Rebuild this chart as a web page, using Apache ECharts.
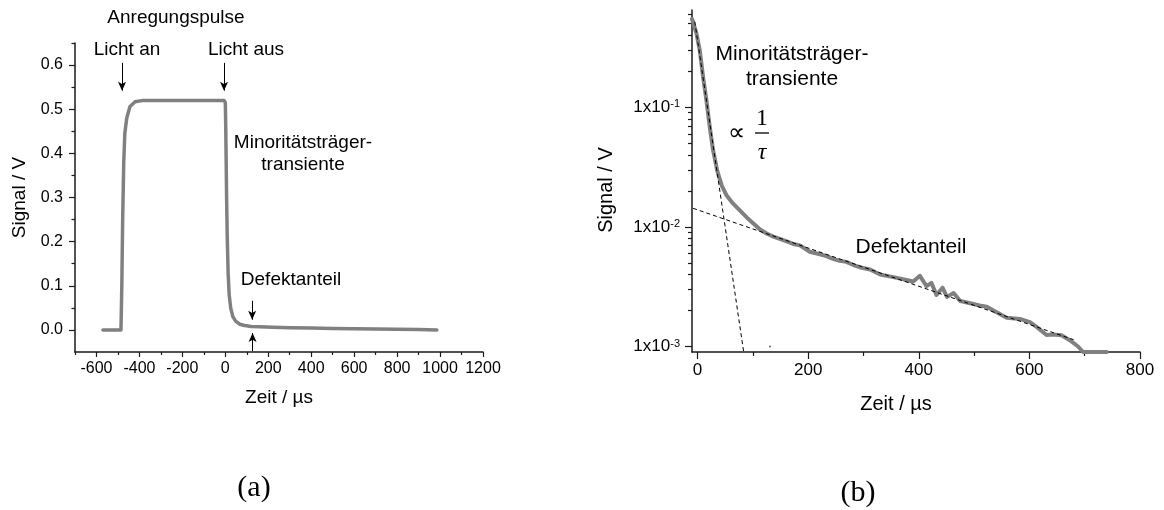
<!DOCTYPE html>
<html>
<head>
<meta charset="utf-8">
<script src="https://cdn.jsdelivr.net/npm/echarts@6/dist/echarts.min.js"></script>
<style>
  html, body { margin: 0; padding: 0; background: #fff; }
  #chart { width: 1164px; height: 510px; }
</style>
</head>
<body>
<div id="chart"></div>
<script>
// ---- (a) pulse response, linear signal axis ----
const pulseTime = [-570, -486, -482, -478, -473, -468, -459, -444, -420, -383, -300, -200, -100, -6,
  0, 2, 4, 6, 9, 13, 18, 25, 35, 48, 67, 90, 120, 160, 220, 300, 400, 500, 600, 700, 800, 900, 985];
const pulseSignal = [0, 0, 0.1, 0.25, 0.38, 0.445, 0.48, 0.506, 0.517, 0.52, 0.52, 0.52, 0.52, 0.52,
  0.515, 0.46, 0.38, 0.3, 0.21, 0.13, 0.08, 0.05, 0.03, 0.02, 0.013, 0.01, 0.008, 0.007, 0.006, 0.005,
  0.0042, 0.0035, 0.0028, 0.0021, 0.0015, 0.0008, 0.0];

// ---- (b) decay after switch-off, logarithmic signal axis ----
const decayTime = [-10, -2, 4, 10, 16, 22, 28, 36, 44, 52, 64, 76, 89, 100, 113, 125, 137, 160, 173, 185, 203,
  221, 233, 245, 257, 269, 282, 293, 312, 330, 354, 378, 390, 402, 414, 423, 432, 443, 451, 463, 475,
  493, 510, 523, 535, 559, 583, 601, 613, 631, 643, 658, 673, 688, 697, 720, 740];
const decaySignal = [0.547, 0.415, 0.30, 0.18, 0.115, 0.069, 0.044, 0.029, 0.022, 0.0185, 0.0157, 0.0138,
  0.012, 0.0108, 0.0095, 0.0088, 0.0083, 0.0076, 0.0072, 0.007, 0.0062, 0.0059, 0.0057, 0.0054, 0.0052, 0.0051,
  0.0048, 0.0046, 0.0044, 0.0040, 0.0038, 0.0036, 0.0035, 0.0039, 0.0032, 0.0034, 0.0027, 0.0031, 0.0026,
  0.0028, 0.0024, 0.0023, 0.0022, 0.00215, 0.002, 0.00174, 0.0017, 0.0016, 0.00146, 0.00125, 0.00126,
  0.00124, 0.00113, 0.001, 0.0009, 0.0009, 0.0009];

// exponential fits (straight lines in log space, two end points each)
const fastFitTime = [-5, 86];
const fastFitSignal = [0.52, 0.00075];
const slowFitTime = [-8, 680];
const slowFitSignal = [0.0143, 0.00114];
const strayTime = [131];
const straySignal = [0.001];

// arrows in panel (a): time position, start and end signal
const arrowTime = [-481, -6, 125, 127];
const arrowFrom = [0.605, 0.605, 0.066, -0.048];
const arrowTo = [0.542, 0.542, 0.023, -0.007];

// tick positions
const pulseTimeTicks = [-600, -400, -200, 0, 200, 400, 600, 800, 1000, 1200];
const pulseTimeMinor = [-700, -500, -300, -100, 100, 300, 500, 700, 900, 1100];
const pulseSignalTicks = [0, 0.1, 0.2, 0.3, 0.4, 0.5, 0.6];
const pulseSignalMinor = [0.05, 0.15, 0.25, 0.35, 0.45, 0.55, 0.65];
const decayTimeTicks = [0, 200, 400, 600, 800];
const decayTimeMinor = [100, 300, 500, 700];
const decaySignalTicks = [0.001, 0.01, 0.1];
const decaySignalMinor = [0.002, 0.003, 0.004, 0.005, 0.006, 0.007, 0.008, 0.009,
  0.02, 0.03, 0.04, 0.05, 0.06, 0.07, 0.08, 0.09, 0.2, 0.3, 0.4, 0.5, 0.6];

const SANS = 'Liberation Sans';
const SERIF = 'Liberation Serif';
const AXIS_COLOR = '#1a1a1a';
const CURVE_COLOR = '#808080';

const zip = (xs, ys) => xs.map((x, i) => [x, ys[i]]);

function majorAxis(extra) {
  return Object.assign({
    type: 'value',
    axisLine: { show: true, onZero: false, lineStyle: { color: AXIS_COLOR, width: 1.5 } },
    splitLine: { show: false },
    axisLabel: { color: '#000', fontFamily: SANS, fontSize: 16 },
    nameTextStyle: { color: '#000', fontFamily: SANS, fontSize: 19 },
    nameLocation: 'middle'
  }, extra);
}
function minorAxis(extra, values, len) {
  return Object.assign({
    type: 'value',
    axisLine: { show: false, onZero: false },
    splitLine: { show: false },
    axisLabel: { show: false },
    axisTick: { show: true, length: len, customValues: values, lineStyle: { color: AXIS_COLOR, width: 1.2 } }
  }, extra);
}

const chart = echarts.init(document.getElementById('chart'), null, { renderer: 'canvas' });

const option = {
  animation: false,
  backgroundColor: '#fff',
  textStyle: { fontFamily: SANS },
  grid: [
    { left: 75, top: 43, width: 408, height: 309 },
    { left: 692, top: 10, width: 448, height: 342 }
  ],
  xAxis: [
    majorAxis({
      gridIndex: 0, position: 'bottom', min: -700, max: 1200,
      axisTick: { length: 5, customValues: pulseTimeTicks, lineStyle: { color: AXIS_COLOR, width: 1.2 } },
      axisLabel: { color: '#000', fontFamily: SANS, fontSize: 16, margin: 9, customValues: pulseTimeTicks, formatter: v => String(v) },
      name: 'Zeit / µs', nameGap: 36
    }),
    minorAxis({ gridIndex: 0, position: 'bottom', min: -700, max: 1200 }, pulseTimeMinor, 3),
    majorAxis({
      gridIndex: 1, position: 'bottom', min: -10, max: 800,
      axisTick: { length: 7, customValues: decayTimeTicks, lineStyle: { color: AXIS_COLOR, width: 1.2 } },
      axisLabel: { color: '#000', fontFamily: SANS, fontSize: 17, margin: 10, customValues: decayTimeTicks, formatter: v => String(v) },
      name: 'Zeit / µs', nameGap: 42,
      nameTextStyle: { color: '#000', fontFamily: SANS, fontSize: 20, padding: [0, 40, 0, 0] }
    }),
    minorAxis({ gridIndex: 1, position: 'bottom', min: -10, max: 800 }, decayTimeMinor, 4)
  ],
  yAxis: [
    majorAxis({
      gridIndex: 0, position: 'left', min: -0.05, max: 0.65,
      axisTick: { length: 6, customValues: pulseSignalTicks, lineStyle: { color: AXIS_COLOR, width: 1.2 } },
      axisLabel: {
        color: '#000', fontFamily: SANS, fontSize: 16, margin: 12, customValues: pulseSignalTicks,
        formatter: v => v.toFixed(1)
      },
      name: 'Signal / V', nameRotate: 90, nameGap: 46
    }),
    minorAxis({ gridIndex: 0, position: 'left', min: -0.05, max: 0.65 }, pulseSignalMinor, 3.5),
    majorAxis({
      gridIndex: 1, type: 'log', logBase: 10, position: 'left', min: 0.0009, max: 0.65,
      axisTick: { length: 7, customValues: decaySignalTicks, lineStyle: { color: AXIS_COLOR, width: 1.2 } },
      axisLabel: {
        color: '#000', fontFamily: SANS, fontSize: 17, margin: 12, customValues: decaySignalTicks,
        formatter: v => '1x10{s|' + Math.round(Math.log10(v)) + '}',
        rich: { s: { fontSize: 11, fontFamily: SANS, color: '#000', verticalAlign: 'top', lineHeight: 11, padding: [0, 0, 8, 0] } }
      },
      name: 'Signal / V', nameRotate: 90, nameGap: 76,
      nameTextStyle: { color: '#000', fontFamily: SANS, fontSize: 20, padding: [0, 18, 0, 0] }
    }),
    minorAxis({ gridIndex: 1, type: 'log', logBase: 10, position: 'left', min: 0.0009, max: 0.65 }, decaySignalMinor, 4)
  ],
  series: [
    {
      type: 'line', xAxisIndex: 0, yAxisIndex: 0, data: zip(pulseTime, pulseSignal),
      showSymbol: false, silent: true,
      lineStyle: { color: CURVE_COLOR, width: 3.5, cap: 'round', join: 'round' },
      markLine: {
        silent: true, symbol: ['none', 'arrow'], symbolSize: [6, 9],
        label: { show: false },
        lineStyle: { color: '#000', width: 1, type: 'solid' },
        data: arrowTime.map((t, i) => [{ coord: [t, arrowFrom[i]] }, { coord: [t, arrowTo[i]] }])
      }
    },
    {
      type: 'line', xAxisIndex: 2, yAxisIndex: 2, data: zip(decayTime, decaySignal),
      showSymbol: false, silent: true,
      lineStyle: { color: CURVE_COLOR, width: 4, cap: 'round', join: 'round' }
    },
    {
      type: 'line', xAxisIndex: 2, yAxisIndex: 2, data: zip(fastFitTime, fastFitSignal),
      showSymbol: false, silent: true,
      lineStyle: { color: '#000', width: 1, type: [4, 3] }
    },
    {
      type: 'line', xAxisIndex: 2, yAxisIndex: 2, data: zip(slowFitTime, slowFitSignal),
      showSymbol: false, silent: true,
      lineStyle: { color: '#000', width: 1, type: [4, 3] }
    },
    {
      type: 'scatter', xAxisIndex: 2, yAxisIndex: 2, data: zip(strayTime, straySignal),
      symbolSize: 2, silent: true, itemStyle: { color: '#333' }
    }
  ],
  graphic: [
    { type: 'text', x: 176, y: 18, style: { text: 'Anregungspulse', fontFamily: SANS, fontSize: 19, fill: '#000', align: 'center', verticalAlign: 'middle' } },
    { type: 'text', x: 127, y: 50, style: { text: 'Licht an', fontFamily: SANS, fontSize: 19, fill: '#000', align: 'center', verticalAlign: 'middle' } },
    { type: 'text', x: 246, y: 50, style: { text: 'Licht aus', fontFamily: SANS, fontSize: 19, fill: '#000', align: 'center', verticalAlign: 'middle' } },
    { type: 'text', x: 303, y: 154, style: { text: 'Minoritätsträger-\ntransiente', fontFamily: SANS, fontSize: 19, lineHeight: 22, fill: '#000', align: 'center', verticalAlign: 'middle' } },
    { type: 'text', x: 291, y: 280, style: { text: 'Defektanteil', fontFamily: SANS, fontSize: 19, fill: '#000', align: 'center', verticalAlign: 'middle' } },
    { type: 'text', x: 792, y: 67, style: { text: 'Minoritätsträger-\ntransiente', fontFamily: SANS, fontSize: 21, lineHeight: 25, fill: '#000', align: 'center', verticalAlign: 'middle' } },
    { type: 'text', x: 911, y: 247, style: { text: 'Defektanteil', fontFamily: SANS, fontSize: 21, fill: '#000', align: 'center', verticalAlign: 'middle' } },
    { type: 'text', x: 736, y: 134, style: { text: '∝', fontFamily: SERIF, fontSize: 24, fill: '#000', align: 'center', verticalAlign: 'middle' } },
    { type: 'text', x: 762, y: 119, style: { text: '1', fontFamily: SERIF, fontSize: 24, fill: '#000', align: 'center', verticalAlign: 'middle' } },
    { type: 'line', shape: { x1: 755, y1: 133, x2: 769, y2: 133 }, style: { stroke: '#000', lineWidth: 1.3 } },
    { type: 'text', x: 762, y: 153, style: { text: 'τ', fontFamily: SERIF, fontStyle: 'italic', fontSize: 24, fill: '#000', align: 'center', verticalAlign: 'middle' } },
    { type: 'text', x: 254, y: 488, style: { text: '(a)', fontFamily: SERIF, fontSize: 30, fill: '#000', align: 'center', verticalAlign: 'middle' } },
    { type: 'text', x: 858, y: 493, style: { text: '(b)', fontFamily: SERIF, fontSize: 30, fill: '#000', align: 'center', verticalAlign: 'middle' } }
  ]
};

chart.setOption(option);
</script>
</body>
</html>
